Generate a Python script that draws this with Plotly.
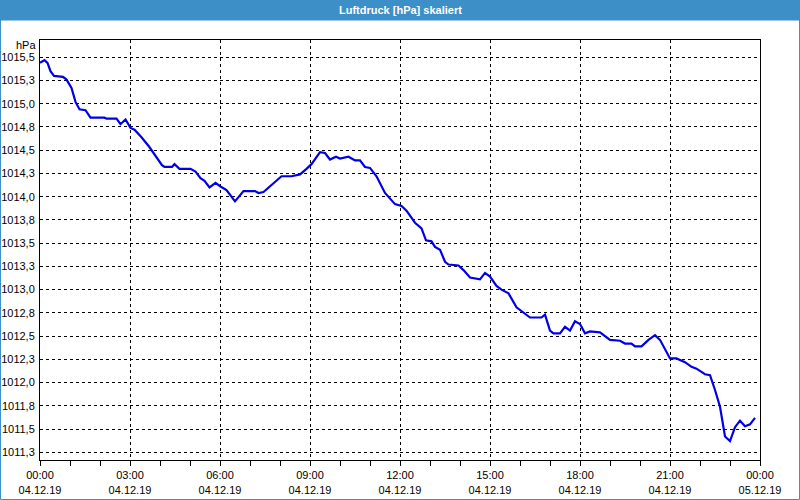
import plotly.graph_objects as go

# ---- data ----
day = "2019-12-04"
times = ["00:00", "00:09", "00:15", "00:21", "00:28", "00:46", "00:53", "01:03", "01:11", "01:19",
         "01:31", "01:41", "02:09", "02:13", "02:33", "02:41", "02:51", "03:01", "03:09", "03:23",
         "03:38", "03:51", "04:04", "04:09", "04:24", "04:29", "04:39", "05:01", "05:11", "05:21",
         "05:29", "05:39", "05:51", "06:01", "06:13", "06:30", "06:47", "07:10", "07:17", "07:27",
         "07:47", "08:03", "08:23", "08:40", "08:53", "09:03", "09:20", "09:30", "09:40", "09:52",
         "10:00", "10:17", "10:30", "10:40", "10:50", "11:00", "11:13", "11:30", "11:50", "12:03",
         "12:13", "12:30", "12:43", "12:52", "13:03", "13:10", "13:20", "13:30", "13:37", "13:57",
         "14:07", "14:20", "14:40", "14:50", "15:00", "15:13", "15:23", "15:37", "15:53", "16:03",
         "16:20", "16:43", "16:50", "17:00", "17:07", "17:20", "17:30", "17:40", "17:50", "18:00",
         "18:10", "18:20", "18:40", "19:00", "19:20", "19:30", "19:43", "19:50", "20:03", "20:17",
         "20:30", "20:40", "21:00", "21:13", "21:30", "21:43", "21:53", "22:10", "22:20", "22:30",
         "22:40", "22:50", "23:00", "23:10", "23:20", "23:30", "23:40", "23:50"]
pressure = [1015.44, 1015.47, 1015.44, 1015.35, 1015.30, 1015.29, 1015.26, 1015.17, 1015.02, 1014.94,
            1014.93, 1014.85, 1014.85, 1014.84, 1014.84, 1014.78, 1014.83, 1014.74, 1014.72, 1014.64,
            1014.54, 1014.44, 1014.34, 1014.32, 1014.32, 1014.35, 1014.30, 1014.30, 1014.27, 1014.20,
            1014.17, 1014.10, 1014.15, 1014.11, 1014.07, 1013.95, 1014.06, 1014.06, 1014.04, 1014.05,
            1014.14, 1014.22, 1014.22, 1014.24, 1014.30, 1014.35, 1014.48, 1014.47, 1014.40, 1014.43,
            1014.41, 1014.43, 1014.39, 1014.39, 1014.32, 1014.31, 1014.22, 1014.04, 1013.92, 1013.90,
            1013.85, 1013.72, 1013.66, 1013.53, 1013.52, 1013.46, 1013.43, 1013.30, 1013.27, 1013.26,
            1013.21, 1013.13, 1013.11, 1013.18, 1013.14, 1013.04, 1013.00, 1012.96, 1012.81, 1012.77,
            1012.70, 1012.70, 1012.73, 1012.56, 1012.53, 1012.53, 1012.60, 1012.56, 1012.66, 1012.63,
            1012.53, 1012.55, 1012.54, 1012.46, 1012.45, 1012.42, 1012.42, 1012.39, 1012.39, 1012.46,
            1012.51, 1012.46, 1012.26, 1012.26, 1012.22, 1012.17, 1012.15, 1012.09, 1012.08, 1011.92,
            1011.74, 1011.42, 1011.37, 1011.52, 1011.59, 1011.53, 1011.55, 1011.62]

y_tickvals = [1011.25, 1011.5, 1011.75, 1012.0, 1012.25, 1012.5, 1012.75, 1013.0, 1013.25,
              1013.5, 1013.75, 1014.0, 1014.25, 1014.5, 1014.75, 1015.0, 1015.25, 1015.5]
y_ticktext = ["1011,3", "1011,5", "1011,8", "1012,0", "1012,3", "1012,5", "1012,8", "1013,0", "1013,3",
              "1013,5", "1013,8", "1014,0", "1014,3", "1014,5", "1014,8", "1015,0", "1015,3", "1015,5"]
x_tickvals = ["2019-12-04 00:00", "2019-12-04 03:00", "2019-12-04 06:00", "2019-12-04 09:00",
              "2019-12-04 12:00", "2019-12-04 15:00", "2019-12-04 18:00", "2019-12-04 21:00",
              "2019-12-05 00:00"]
x_ticktext = ["00:00<br>04.12.19", "03:00<br>04.12.19", "06:00<br>04.12.19", "09:00<br>04.12.19",
              "12:00<br>04.12.19", "15:00<br>04.12.19", "18:00<br>04.12.19", "21:00<br>04.12.19",
              "00:00<br>05.12.19"]
title_text = "Luftdruck [hPa] skaliert"
unit_text = "hPa"

x = [f"{day} {t}" for t in times]

FONT = "Liberation Sans"
BAR = "#3d8fc7"

# plot area in pixels: x 40..760, y 40..460
L, R, T, B = 40, 40, 40, 40
W, H = 800, 500
PW, PH = W - L - R, H - T - B


def px(xp):
    return (xp - L) / PW


def py(yp):
    return (H - B - yp) / PH


fig = go.Figure()
fig.add_trace(go.Scatter(x=x, y=pressure, mode="lines",
                         line=dict(color="#0000e6", width=2.2), hoverinfo="skip"))

fig.update_layout(
    width=W, height=H, autosize=False,
    margin=dict(l=L, r=R, t=T, b=B, pad=0, autoexpand=False),
    paper_bgcolor="white", plot_bgcolor="white",
    showlegend=False,
    font=dict(family=FONT, size=11, color="black"),
    xaxis=dict(
        type="date", automargin=False,
        range=["2019-12-04 00:00", "2019-12-05 00:00"],
        tickmode="array", tickvals=x_tickvals, ticktext=x_ticktext,
        ticks="outside", ticklen=5, tickcolor="black", tickwidth=1,
        minor=dict(dtick=3600000, ticks="outside", ticklen=5, tickcolor="black",
                   tickwidth=1, showgrid=False),
        showgrid=True, gridcolor="black", griddash="3px,3px", gridwidth=1,
        showline=True, linecolor="black", linewidth=1, mirror=True,
        zeroline=False, tickangle=0,
        tickfont=dict(family=FONT, size=11, color="black"),
    ),
    yaxis=dict(
        automargin=False,
        range=[1011.167, 1015.686],
        tickmode="array", tickvals=y_tickvals, ticktext=y_ticktext,
        ticks="", ticklabelstandoff=2,
        showgrid=True, gridcolor="black", griddash="3px,3px", gridwidth=1,
        showline=True, linecolor="black", linewidth=1, mirror=True,
        zeroline=False,
        tickfont=dict(family=FONT, size=11, color="black"),
    ),
    shapes=[
        dict(type="rect", xref="paper", yref="paper",
             x0=px(0), x1=px(W), y0=py(20), y1=py(0),
             fillcolor=BAR, line=dict(width=0), layer="above"),
        dict(type="rect", xref="paper", yref="paper",
             x0=px(0.5), x1=px(W - 0.5), y0=py(H - 0.5), y1=py(20),
             fillcolor="rgba(0,0,0,0)", line=dict(color=BAR, width=1), layer="above"),
    ],
    annotations=[
        dict(text=f"<b>{title_text}</b>", xref="paper", yref="paper",
             x=0.5, y=py(10), xanchor="center", yanchor="middle", showarrow=False,
             font=dict(family=FONT, size=11, color="white")),
        dict(text=unit_text, xref="paper", yref="paper",
             x=px(38), y=py(45), xanchor="right", yanchor="middle", showarrow=False,
             font=dict(family=FONT, size=11, color="black")),
    ],
)

fig.write_html("out.html")
